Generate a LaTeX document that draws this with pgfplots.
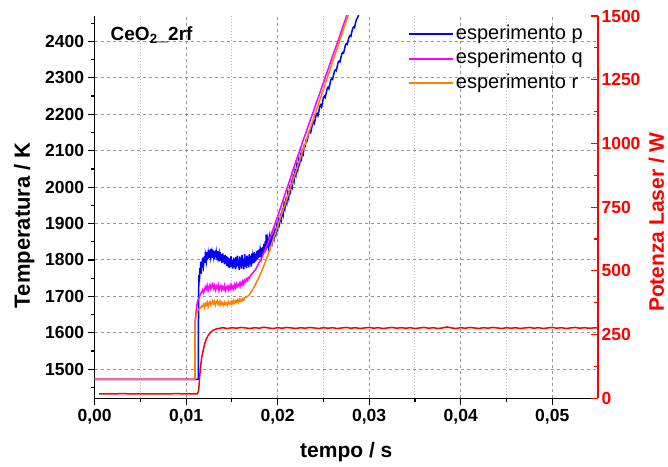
\documentclass[border=0pt]{standalone}
\usepackage{pgfplots}
\pgfplotsset{compat=1.18}
\usepackage{fontspec}
\setmainfont{Liberation Sans}
\definecolor{cp}{RGB}{0,0,255}
\definecolor{cq}{RGB}{255,0,255}
\definecolor{cr}{RGB}{255,128,0}
\definecolor{cl}{RGB}{255,0,0}
\definecolor{gridc}{RGB}{150,150,150}
\newcommand{\tickfont}{\fontsize{17.5}{20}\selectfont\bfseries}
\begin{document}
\begin{tikzpicture}
\begin{axis}[name=T,
 scale only axis, width=503.4pt, height=382.3pt,
 xmin=0, xmax=0.055, ymin=1420, ymax=2470,
 axis lines*=left,
 axis line style={black, line width=1.3pt},
 tick align=outside,
 major tick length=7pt, minor tick length=4pt,
 every tick/.style={black, line width=1.2pt},
 xtick={0,0.01,0.02,0.03,0.04,0.05},
 minor xtick={0.005,0.015,0.025,0.035,0.045},
 ytick={1500,1600,...,2400},
 minor ytick={1450,1550,...,2450},
 scaled x ticks=false,
 /pgf/number format/assume math mode=true,
 xticklabel style={/pgf/number format/.cd, fixed, fixed zerofill, precision=2, use comma},
 yticklabel style={/pgf/number format/1000 sep={}},
 ticklabel style={font=\tickfont},
 xmajorgrids, ymajorgrids, xminorgrids,
 major grid style={gridc, dash pattern=on 3pt off 3pt, line width=0.9pt},
 minor grid style={gridc!70, dash pattern=on 1pt off 2pt, line width=0.9pt},
 xlabel={tempo / s},
 xlabel style={font=\fontsize{21}{24}\selectfont\bfseries, at={(axis description cs:0.5,-0.14)}, anchor=center},
 ylabel={Temperatura / K},
 ylabel style={font=\fontsize{22}{26}\selectfont\bfseries, at={(axis description cs:-0.140,0.453)}, anchor=center},
 legend style={at={(axis description cs:0.6166,0.9896)}, anchor=north west, draw=none, fill=none,
   font=\fontsize{20}{24}\selectfont, nodes={text height=15.3pt, text depth=5pt}},
 legend cell align=left,
 legend image code/.code={\draw[#1, line width=1.8pt] (0pt,0pt) -- (44pt,0pt);},
]
\addplot[cp, line width=1.5pt] coordinates {
(0,1472) (0.0113,1472) (0.01133,1473) (0.01136,1700) (0.0114,1758) (0.01145,1740) (0.0115,1778) (0.01155,1762)
(0.0116,1795) (0.0117,1776) (0.0118,1806) (0.0119,1784) (0.0120,1810) (0.01205,1792) (0.0121,1814) (0.0122,1798)
(0.01225,1822) (0.0123,1800) (0.0124,1818) (0.01245,1804) (0.0125,1826) (0.0126,1806) (0.01265,1830) (0.0127,1808)
(0.0128,1822) (0.01285,1806) (0.0129,1828) (0.0130,1810) (0.01305,1824) (0.0131,1802) (0.0132,1826) (0.01325,1808)
(0.0133,1820) (0.0134,1800) (0.01345,1824) (0.0135,1806) (0.0136,1818) (0.01365,1796) (0.0137,1822) (0.0138,1800)
(0.01385,1816) (0.0139,1792) (0.0140,1818) (0.01405,1794) (0.0141,1812) (0.0142,1788) (0.01425,1814) (0.0143,1790)
(0.0144,1810) (0.01445,1784) (0.0145,1808) (0.0146,1782) (0.01465,1806) (0.0147,1778) (0.0148,1804) (0.01485,1780)
(0.0149,1810) (0.0150,1782) (0.01505,1800) (0.0151,1776) (0.0152,1806) (0.01525,1780) (0.0153,1802) (0.0154,1774)
(0.01545,1808) (0.0155,1780) (0.0156,1812) (0.01565,1784) (0.0157,1800) (0.0158,1772) (0.01585,1810) (0.0159,1782)
(0.0160,1806) (0.01605,1776) (0.0161,1814) (0.0162,1784) (0.01625,1802) (0.0163,1774) (0.0164,1816) (0.01645,1782)
(0.0165,1806) (0.0166,1778) (0.01665,1812) (0.0167,1784) (0.0168,1808) (0.01685,1780) (0.0169,1816) (0.0170,1788)
(0.01705,1812) (0.0171,1782) (0.0172,1818) (0.01725,1790) (0.0173,1810) (0.0174,1792) (0.01745,1822) (0.0175,1794)
(0.0176,1816) (0.01765,1798) (0.0177,1824) (0.0178,1802) (0.01785,1826) (0.0179,1806) (0.0180,1830) (0.01805,1808)
(0.0181,1828) (0.0182,1812) (0.01825,1834) (0.0183,1814) (0.0184,1836) (0.01845,1818) (0.0185,1844) (0.0186,1822)
(0.01865,1852) (0.0187,1826) (0.01875,1870) (0.0188,1832) (0.0189,1856) (0.0190,1836) (0.0191,1862) (0.0192,1842)
(0.0193,1866) (0.0194,1850) (0.0195,1870) (0.0196,1858) (0.0197,1880) (0.0198,1870) (0.0199,1894) (0.0200,1884)
(0.0201,1908) (0.0202,1898) (0.0203,1920) (0.0204,1910) (0.0205,1934) (0.0206,1924) (0.0207,1954) (0.0208,1942)
(0.0209,1964) (0.0210,1956) (0.0211,1982) (0.0212,1970) (0.0213,1997) (0.0214,1988) (0.0215,2012) (0.0216,2002)
(0.0217,2028) (0.0218,2018) (0.0219,2044) (0.0220,2034) (0.0221,2060) (0.0222,2048) (0.0223,2074) (0.0224,2064)
(0.0225,2087) (0.0226,2078) (0.0227,2100) (0.0228,2092) (0.0229,2114) (0.0230,2112) (0.0231,2128) (0.0232,2126)
(0.0233,2136) (0.0234,2150) (0.0235,2154) (0.0236,2150) (0.0237,2160) (0.0238,2174) (0.0239,2178) (0.0240,2174)
(0.0241,2186) (0.0242,2198) (0.0243,2202) (0.0244,2196) (0.0245,2208) (0.0246,2222) (0.0247,2226) (0.0248,2220)
(0.0249,2232) (0.0250,2246) (0.0251,2250) (0.0252,2246) (0.0253,2258) (0.0254,2270) (0.0255,2274) (0.0256,2270)
(0.0257,2282) (0.0258,2294) (0.0259,2298) (0.0260,2296) (0.0261,2307) (0.0262,2318) (0.0263,2322) (0.0264,2320)
(0.0265,2330) (0.0266,2342) (0.0267,2346) (0.0268,2344) (0.0269,2354) (0.0270,2366) (0.0271,2370) (0.0272,2368)
(0.0273,2378) (0.0274,2390) (0.0275,2394) (0.0276,2392) (0.0277,2402) (0.0278,2412) (0.0279,2416) (0.0280,2414)
(0.0281,2426) (0.0282,2436) (0.0283,2440) (0.0284,2438) (0.0285,2450) (0.0286,2460) (0.0287,2464) (0.0289,2476)
(0.0291,2490)
};
\addlegendentry{esperimento p}
\addplot[cq, line width=1.5pt] coordinates {
(0,1472) (0.01095,1472) (0.01097,1600) (0.0110,1640) (0.0111,1660) (0.0112,1680) (0.0113,1690) (0.0114,1695)
(0.0115,1702) (0.0116,1708) (0.0117,1712) (0.0118,1718) (0.0119,1710) (0.0120,1716) (0.0121,1726) (0.0122,1720)
(0.0123,1730) (0.0124,1716) (0.0125,1726) (0.0126,1732) (0.0127,1720) (0.0128,1728) (0.0129,1734) (0.0130,1722)
(0.0131,1730) (0.0132,1718) (0.0133,1728) (0.0134,1722) (0.0135,1732) (0.0136,1716) (0.0137,1726) (0.0138,1730)
(0.0139,1718) (0.0140,1726) (0.0141,1720) (0.0142,1730) (0.0143,1716) (0.0144,1724) (0.0145,1728) (0.0146,1718)
(0.0147,1728) (0.0148,1720) (0.0149,1732) (0.0150,1722) (0.0151,1728) (0.0152,1720) (0.0153,1732) (0.0154,1724)
(0.0155,1734) (0.0156,1726) (0.0157,1730) (0.0158,1736) (0.0159,1728) (0.0160,1738) (0.0161,1732) (0.0162,1742)
(0.0163,1734) (0.0164,1744) (0.0165,1740) (0.0166,1748) (0.0167,1744) (0.0168,1752) (0.0169,1750) (0.0170,1756)
(0.0172,1762) (0.0174,1768) (0.0176,1774) (0.0178,1784) (0.0180,1794)
(0.0182,1802) (0.0184,1814) (0.0186,1826) (0.0188,1839) (0.0190,1851) (0.0192,1863) (0.0194,1876) (0.0196,1891)
(0.0198,1906) (0.0200,1920) (0.0202,1935) (0.0204,1950) (0.0206,1965) (0.0208,1980) (0.0210,1995) (0.0212,2010)
(0.0214,2025) (0.0216,2042) (0.0218,2056) (0.0220,2072) (0.0222,2086) (0.0224,2100) (0.0226,2114) (0.0228,2130)
(0.0230,2143) (0.0232,2158) (0.0234,2172) (0.0236,2187) (0.0238,2200) (0.0240,2215) (0.0242,2230) (0.0244,2244)
(0.0246,2258) (0.0248,2273) (0.0250,2287) (0.0252,2302) (0.0254,2316) (0.0256,2330) (0.0258,2345) (0.0260,2360)
(0.0262,2374) (0.0264,2388) (0.0266,2402) (0.0268,2417) (0.0270,2432) (0.0272,2446) (0.0274,2460) (0.0276,2475)
(0.0278,2490)
};
\addlegendentry{esperimento q}
\addplot[cr, line width=1.5pt] coordinates {
(0,1472) (0.01095,1472) (0.01097,1600) (0.0110,1635) (0.0111,1648) (0.0112,1656) (0.0113,1662) (0.0114,1664)
(0.0115,1670) (0.0116,1668) (0.0117,1674) (0.0118,1672) (0.0119,1678) (0.0120,1670) (0.0121,1680) (0.0122,1676)
(0.0123,1684) (0.0124,1672) (0.0125,1682) (0.0126,1686) (0.0127,1676) (0.0128,1682) (0.0129,1688) (0.0130,1680)
(0.0131,1686) (0.0132,1676) (0.0133,1684) (0.0134,1688) (0.0135,1678) (0.0136,1684) (0.0137,1676) (0.0138,1686)
(0.0139,1678) (0.0140,1682) (0.0141,1676) (0.0142,1684) (0.0143,1678) (0.0144,1682) (0.0145,1676) (0.0146,1686)
(0.0147,1680) (0.0148,1684) (0.0149,1678) (0.0150,1686) (0.0151,1680) (0.0152,1688) (0.0153,1682) (0.0154,1688)
(0.0155,1684) (0.0156,1690) (0.0157,1684) (0.0158,1692) (0.0159,1686) (0.0160,1692) (0.0161,1688) (0.0162,1694)
(0.0163,1690) (0.0164,1696) (0.0166,1698) (0.0168,1702) (0.0170,1708) (0.0172,1716) (0.0174,1724) (0.0176,1734)
(0.0178,1744) (0.0180,1754)
(0.0182,1766) (0.0184,1778) (0.0186,1791) (0.0188,1804) (0.0190,1818) (0.0192,1833) (0.0194,1848) (0.0196,1863)
(0.0198,1878) (0.0200,1893) (0.0202,1908) (0.0204,1923) (0.0206,1938) (0.0208,1953) (0.0210,1968) (0.0212,1983)
(0.0214,1998) (0.0216,2013) (0.0218,2028) (0.0220,2043) (0.0222,2059) (0.0224,2074) (0.0226,2089) (0.0228,2104)
(0.0230,2119) (0.0232,2134) (0.0234,2149) (0.0236,2164) (0.0238,2179) (0.0240,2194) (0.0242,2209) (0.0244,2224)
(0.0246,2239) (0.0248,2254) (0.0250,2269) (0.0252,2284) (0.0254,2299) (0.0256,2314) (0.0258,2329) (0.0260,2344)
(0.0262,2359) (0.0264,2374) (0.0266,2389) (0.0268,2404) (0.0270,2419) (0.0272,2434) (0.0274,2449) (0.0276,2464)
(0.0278,2479)
};
\addlegendentry{esperimento r}
\node[anchor=base west, font=\fontsize{19}{22}\selectfont\bfseries] at (axis description cs:0.025,0.937) {CeO\textsubscript{2}\_2rf};
\end{axis}
\begin{axis}[
 scale only axis, width=503.4pt, height=382.3pt,
 xmin=0, xmax=0.055, ymin=0, ymax=1500,
 axis x line=none, axis y line*=right,
 axis line style={cl, line width=1.3pt},
 tick align=inside,
 major tick length=7pt, minor tick length=4pt,
 every tick/.style={cl, line width=1.2pt},
 ytick={0,250,...,1500}, minor ytick={125,375,...,1375},
 /pgf/number format/assume math mode=true,
 yticklabel style={font=\tickfont, text=cl, /pgf/number format/1000 sep={}},
 ylabel={Potenza Laser / W},
 ylabel style={font=\fontsize{21}{24}\selectfont\bfseries, text=cl, at={(axis description cs:1.116,0.461)}, anchor=center},
]
\addplot[cl, line width=1.5pt] coordinates {
(0.0005,17) (0.003,18) (0.006,17) (0.009,18) (0.0112,17) (0.01133,25) (0.0114,45) (0.01151,98) (0.0116,130)
(0.0117,160) (0.01188,190) (0.0120,210) (0.0122,232) (0.01243,248) (0.0127,260) (0.0130,268) (0.0133,272)
(0.0137,275) (0.0140,277) (0.0145,274) (0.0150,277) (0.0155,275) (0.0160,278) (0.0165,276) (0.0170,274)
(0.0175,277) (0.0180,275) (0.0185,279) (0.0190,276) (0.0195,274) (0.0200,277) (0.0205,275) (0.0210,278)
(0.0215,276) (0.0220,274) (0.0225,277) (0.0230,275) (0.0235,278) (0.0240,276) (0.0245,274) (0.0250,277)
(0.0255,275) (0.0260,277) (0.0265,274) (0.0270,276) (0.0275,278) (0.0280,275) (0.0285,277) (0.0290,274)
(0.0295,276) (0.0300,278) (0.0305,275) (0.0310,277) (0.0315,274) (0.0320,276) (0.0325,278) (0.0330,275)
(0.0335,277) (0.0340,275) (0.0345,277) (0.0350,274) (0.0355,276) (0.0360,278) (0.0365,275) (0.0370,277)
(0.0375,274) (0.0380,276) (0.0385,280) (0.0390,276) (0.0395,274) (0.0400,277) (0.0405,275) (0.0410,278)
(0.0415,276) (0.0420,274) (0.0425,277) (0.0430,275) (0.0435,278) (0.0440,276) (0.0445,274) (0.0450,277)
(0.0455,275) (0.0460,277) (0.0465,274) (0.0470,276) (0.0475,278) (0.0480,275) (0.0485,277) (0.0490,274)
(0.0495,276) (0.0500,278) (0.0505,275) (0.0510,277) (0.0515,274) (0.0520,276) (0.0525,278) (0.0530,275)
(0.0535,277) (0.0540,275) (0.0545,276) (0.0550,277)
};
\end{axis}
\pgfresetboundingbox
\path ([shift={(-94.6pt,-68.7pt)}]T.south west) rectangle ([shift={(70pt,16pt)}]T.north east);
\end{tikzpicture}
\end{document}
